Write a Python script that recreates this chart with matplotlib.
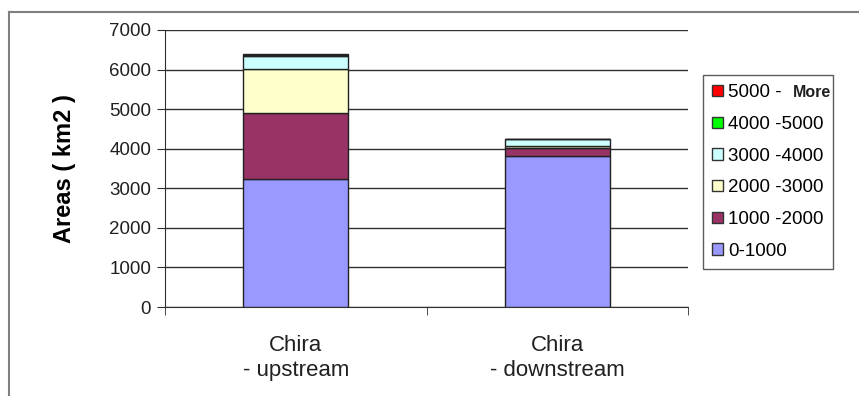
import matplotlib
matplotlib.use('Agg')
import matplotlib.pyplot as plt
from matplotlib.lines import Line2D
import numpy as np

plt.rcParams['font.family'] = ['Liberation Sans', 'DejaVu Sans']

# ---------- Data ---------- #
categories = ['Chira\n- upstream', 'Chira\n- downstream']
classes = ['0-1000', '1000 -2000', '2000 -3000', '3000 -4000', '4000 -5000', '5000 -  ']
colors = ['#9999FF', '#993366', '#FFFFCC', '#CCFFFF', '#00FF00', '#FF0000']
area_0_1000 = [3240, 3820]
area_1000_2000 = [1660, 200]
area_2000_3000 = [1120, 40]
area_3000_4000 = [320, 180]
area_4000_5000 = [40, 0]
area_5000_more = [20, 0]
series = [area_0_1000, area_1000_2000, area_2000_3000,
          area_3000_4000, area_4000_5000, area_5000_more]

# ---------- Figure ---------- #
fig = plt.figure(figsize=(8.59, 3.96), dpi=100)
ax = fig.add_axes([165 / 859, 1 - 307 / 396, 523 / 859, 277 / 396])

x = np.arange(len(categories))
bottom = np.zeros(len(categories))
for vals, col in zip(series, colors):
    ax.bar(x, vals, width=0.40, bottom=bottom, color=col,
           edgecolor='#222222', linewidth=1, zorder=3)
    bottom += np.array(vals)

ax.set_xlim(-0.5, 1.5)
ax.set_ylim(0, 7000)
ax.set_yticks(range(0, 7001, 1000))
ax.yaxis.grid(True, color='#303030', linewidth=1, zorder=0)
ax.set_axisbelow(True)
for s in ['top', 'right']:
    ax.spines[s].set_visible(False)
for s in ['left', 'bottom']:
    ax.spines[s].set_color('#303030')
ax.tick_params(axis='y', direction='out', length=6, color='#303030',
               labelsize=13.5, pad=4, labelcolor='#202020')
ax.set_xticks(x)
ax.set_xticklabels(categories, fontsize=16, color='#202020', linespacing=1.25)
ax.tick_params(axis='x', length=0, pad=20)
ax.set_xticks([-0.5, 0.5, 1.5], minor=True)
ax.tick_params(axis='x', which='minor', length=6, direction='out', color='#303030')
ax.set_ylabel('Areas ( km2 )', fontsize=17, fontweight='bold', labelpad=24)

# ---------- Legend ---------- #
handles = [plt.Rectangle((0, 0), 1, 1, facecolor=c, edgecolor='#333333', lw=1)
           for c in colors]
leg = fig.legend(handles[::-1], classes[::-1], loc='upper left',
                 bbox_to_anchor=(703 / 859, 1 - 75 / 396), fontsize=13.5,
                 frameon=True, fancybox=False, edgecolor='#333333',
                 handlelength=0.55, handleheight=0.55, handletextpad=0.3,
                 labelspacing=0.78, borderpad=0.5, borderaxespad=0)
leg.get_frame().set_linewidth(1)

fig.canvas.draw()
t0 = leg.get_texts()[0]
bb = t0.get_window_extent().transformed(fig.transFigure.inverted())
fig.text(bb.x1, (bb.y0 + bb.y1) / 2, 'More', fontsize=11.5, fontweight='bold',
         va='center', ha='left', color='#202020', zorder=10)

# ---------- Outer frame ---------- #
fig.add_artist(Line2D([9 / 859, 1], [1 - 12 / 396] * 2, color='#808080', lw=1.5,
                      transform=fig.transFigure))
fig.add_artist(Line2D([9 / 859] * 2, [0, 1 - 12 / 396], color='#808080', lw=1.5,
                      transform=fig.transFigure))

fig.savefig('out.png', dpi=100)
